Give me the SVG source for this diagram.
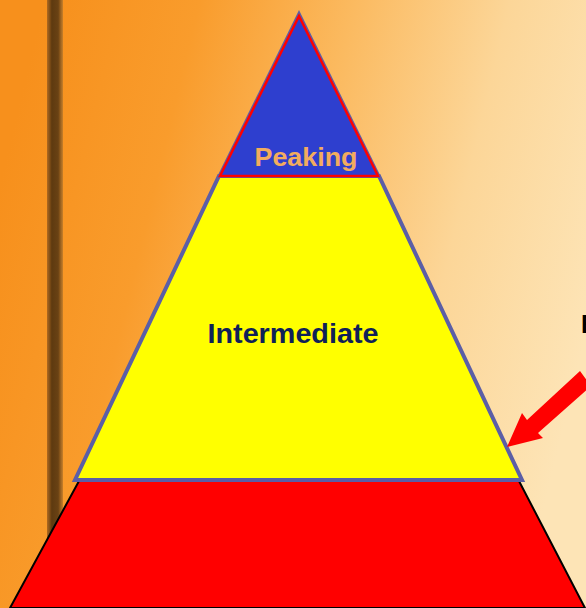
<svg xmlns="http://www.w3.org/2000/svg" width="586" height="608" viewBox="0 0 586 608">
  <defs>
    <linearGradient id="bg" x1="0" y1="0.3" x2="1" y2="0.55">
      <stop offset="0" stop-color="#f7901c"/>
      <stop offset="0.25" stop-color="#f99c2c"/>
      <stop offset="0.5" stop-color="#fbba60"/>
      <stop offset="0.75" stop-color="#fcd698"/>
      <stop offset="1" stop-color="#fde4b6"/>
    </linearGradient>
    <linearGradient id="stripe" x1="0" y1="0" x2="1" y2="0">
      <stop offset="0" stop-color="#b06a20"/>
      <stop offset="0.3" stop-color="#5e3a10"/>
      <stop offset="0.7" stop-color="#6a4214"/>
      <stop offset="1" stop-color="#c8802a"/>
    </linearGradient>
    <style>
      .lbl { font-family: "Liberation Sans", Arial, sans-serif; font-weight: bold; }
    </style>
  </defs>
  <g id="background">
    <rect x="0" y="0" width="586" height="608" fill="url(#bg)"/>
    <rect x="47" y="0" width="16" height="608" fill="url(#stripe)"/>
  </g>
  <g id="base">
    <polygon points="79,481 519,481 585,608 10,608" fill="#ff0000" stroke="#000" stroke-width="2"/>
  </g>
  <g id="intermediate">
    <polygon points="219,176 379,176 522,480 75,480" fill="#ffff00" stroke="#5b5ea6" stroke-width="4" stroke-linejoin="miter"/>
    <text class="lbl" x="293" y="343" font-size="27" fill="#0f2158" text-anchor="middle" textLength="171" lengthAdjust="spacingAndGlyphs">Intermediate</text>
  </g>
  <g id="peaking">
    <polygon points="299,10 381,177 217,177" fill="#5b5ea6"/>
    <polygon points="299,16 378,176 220,176" fill="#2e3fcf" stroke="#ff0000" stroke-width="2.5" stroke-linejoin="miter"/>
    <text class="lbl" x="306" y="166" font-size="26" fill="#f2ac5e" text-anchor="middle" textLength="103" lengthAdjust="spacingAndGlyphs">Peaking</text>
  </g>
  <g id="label-e">
    <text class="lbl" x="581" y="333" font-size="25" fill="#000">E</text>
  </g>
  <g id="connectors">
    <polygon points="580,371 591,386 538,433 543,438 507,447 522,413 527,420" fill="#ff0000"/>
  </g>
</svg>
